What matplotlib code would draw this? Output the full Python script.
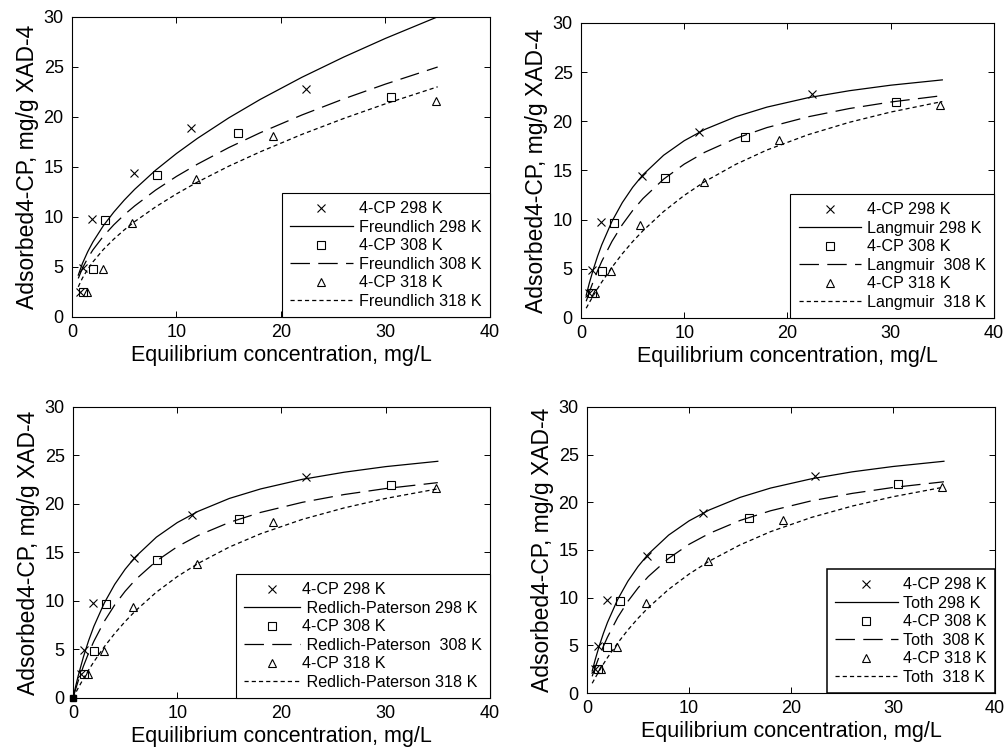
import matplotlib
matplotlib.use("Agg")
import matplotlib.pyplot as plt

conc_298 = [0.8, 1.05, 1.95, 5.9, 11.4, 22.4]
q_298 = [2.5, 4.9, 9.8, 14.4, 18.9, 22.8]
conc_308 = [1.1, 2.0, 3.2, 8.1, 15.9, 30.5]
q_308 = [2.5, 4.8, 9.7, 14.2, 18.4, 21.95]
conc_318 = [1.4, 2.95, 5.75, 11.9, 19.2, 34.8]
q_318 = [2.5, 4.8, 9.4, 13.8, 18.1, 21.6]
origin_conc = [0.0]
origin_q = [0.0]

# fitted isotherm curves, sampled off the figure
freundlich_c = [0.6, 1, 1.5, 2, 3, 4, 5, 6, 8, 10, 12, 15, 18, 22, 26, 30, 35]
freundlich_298 = [4.18, 5.35, 6.51, 7.49, 9.12, 10.48, 11.68, 12.76, 14.67, 16.34, 17.85, 19.9, 21.74, 23.96, 25.98, 27.85, 30.01]
freundlich_308 = [3.85, 4.87, 5.87, 6.7, 8.07, 9.21, 10.21, 11.1, 12.68, 14.05, 15.27, 16.93, 18.41, 20.19, 21.8, 23.28, 24.99]
freundlich_318 = [3.01, 3.89, 4.76, 5.5, 6.74, 7.78, 8.7, 9.53, 11.0, 12.3, 13.48, 15.07, 16.5, 18.25, 19.84, 21.31, 23.01]

langmuir_c = [0.5, 0.8, 1.2, 1.6, 2, 3, 4, 5, 6, 8, 10, 12, 15, 18, 22, 26, 30, 35]
langmuir_298 = [2.31, 3.53, 4.98, 6.27, 7.42, 9.83, 11.73, 13.28, 14.56, 16.54, 18.02, 19.17, 20.46, 21.43, 22.39, 23.1, 23.66, 24.2]
langmuir_308 = [1.7, 2.62, 3.76, 4.79, 5.74, 7.79, 9.49, 10.92, 12.14, 14.11, 15.64, 16.85, 18.26, 19.35, 20.45, 21.29, 21.95, 22.6]
langmuir_318 = [0.99, 1.56, 2.29, 2.98, 3.64, 5.16, 6.53, 7.76, 8.87, 10.82, 12.46, 13.87, 15.62, 17.07, 18.63, 19.89, 20.93, 22.0]

rp_c = [0, 0.25, 0.5, 1, 1.5, 2, 3, 4, 5, 6, 8, 10, 12, 15, 18, 22, 26, 30, 35]
rp_298 = [0.0, 1.19, 2.29, 4.24, 5.92, 7.38, 9.79, 11.71, 13.27, 14.56, 16.58, 18.08, 19.24, 20.57, 21.55, 22.54, 23.27, 23.85, 24.4]
rp_308 = [0.0, 0.9, 1.75, 3.28, 4.64, 5.84, 7.9, 9.59, 11.0, 12.2, 14.12, 15.59, 16.75, 18.1, 19.13, 20.17, 20.97, 21.59, 22.2]
rp_318 = [0.0, 0.52, 1.03, 1.99, 2.89, 3.73, 5.28, 6.65, 7.88, 8.99, 10.91, 12.51, 13.87, 15.56, 16.93, 18.41, 19.59, 20.57, 21.56]

toth_c = [0.5, 0.8, 1.2, 1.6, 2, 3, 4, 5, 6, 8, 10, 12, 15, 18, 22, 26, 30, 35]
toth_298 = [2.3, 3.51, 4.96, 6.25, 7.4, 9.81, 11.72, 13.27, 14.56, 16.56, 18.05, 19.2, 20.51, 21.49, 22.46, 23.19, 23.75, 24.3]
toth_308 = [1.75, 2.7, 3.86, 4.9, 5.86, 7.92, 9.61, 11.02, 12.21, 14.12, 15.59, 16.74, 18.09, 19.11, 20.15, 20.93, 21.55, 22.15]
toth_318 = [1.02, 1.6, 2.34, 3.04, 3.71, 5.24, 6.61, 7.84, 8.95, 10.87, 12.47, 13.84, 15.53, 16.92, 18.41, 19.6, 20.58, 21.59]

x_ticks = [0, 10, 20, 30, 40]
y_ticks = [0, 5, 10, 15, 20, 25, 30]

plt.rcParams['font.family'] = ['Liberation Sans', 'DejaVu Sans']
plt.rcParams['lines.scale_dashes'] = False

DASH_308 = (0, (14, 6))
DASH_318 = (0, (3, 2.2))

fig = plt.figure(figsize=(10.07, 7.51), dpi=100)

panels = [
    # axes rect, model, curve x, curves, legend labels, handletextpad, handlelength
    ([0.0715, 0.578, 0.415, 0.3995], "Freundlich", freundlich_c,
     (freundlich_298, freundlich_308, freundlich_318),
     ("Freundlich 298 K", "Freundlich 308 K", "Freundlich 318 K"), 0.4, 3.9),
    ([0.577, 0.5766, 0.410, 0.393], "Langmuir", langmuir_c,
     (langmuir_298, langmuir_308, langmuir_318),
     ("Langmuir 298 K", "Langmuir  308 K", "Langmuir  318 K"), 0.35, 3.9),
    ([0.0725, 0.0706, 0.414, 0.3875], "Redlich-Paterson", rp_c,
     (rp_298, rp_308, rp_318),
     (" Redlich-Paterson 298 K", " Redlich-Paterson  308 K", " Redlich-Paterson 318 K"), 0.1, 3.5),
    ([0.583, 0.0772, 0.405, 0.381], "Toth", toth_c,
     (toth_298, toth_308, toth_318),
     ("Toth 298 K", "Toth  308 K", "Toth  318 K"), 0.35, 3.9),
]

for rect, name, cx, curves, labels, htp, hlen in panels:
    ax = fig.add_axes(rect)
    mk = dict(color='black', linestyle='none', markersize=6, markeredgewidth=0.8, markerfacecolor='none')
    ax.plot(conc_298, q_298, marker='x', label='4-CP 298 K', **mk)
    ax.plot(cx, curves[0], color='black', lw=0.9, linestyle='-', label=labels[0])
    ax.plot(conc_308, q_308, marker='s', label='4-CP 308 K', **mk)
    ax.plot(cx, curves[1], color='black', lw=0.9, linestyle=DASH_308, label=labels[1])
    ax.plot(conc_318, q_318, marker='^', label='4-CP 318 K', **mk)
    ax.plot(cx, curves[2], color='black', lw=0.9, linestyle=DASH_318, label=labels[2])
    if name == "Redlich-Paterson":
        ax.plot(origin_conc, origin_q, marker='s', color='black', linestyle='none',
                markersize=4, clip_on=False)

    ax.set_xlim(0, 40)
    ax.set_ylim(0, 30)
    ax.set_xticks(x_ticks)
    ax.set_yticks(y_ticks)
    ax.tick_params(direction='in', top=True, right=True, length=4, width=0.7, labelsize=13)
    ax.tick_params(axis='y', pad=6)
    ax.tick_params(axis='x', pad=5)
    for sp in ax.spines.values():
        sp.set_linewidth(0.8)
    ax.set_xlabel('Equilibrium concentration, mg/L', fontsize=15.5, labelpad=3)
    ax.set_ylabel('Adsorbed4-CP, mg/g XAD-4', fontsize=16.5, labelpad=3)

    leg = ax.legend(loc='lower right', borderaxespad=0, fontsize=11.6, handlelength=hlen,
                    numpoints=1, fancybox=False, framealpha=1, edgecolor='black',
                    labelspacing=0.22, borderpad=0.5, handletextpad=htp)
    leg.get_frame().set_linewidth(0.8 if name != "Toth" else 1.1)

plt.savefig("out.png", dpi=100)
plt.close()
